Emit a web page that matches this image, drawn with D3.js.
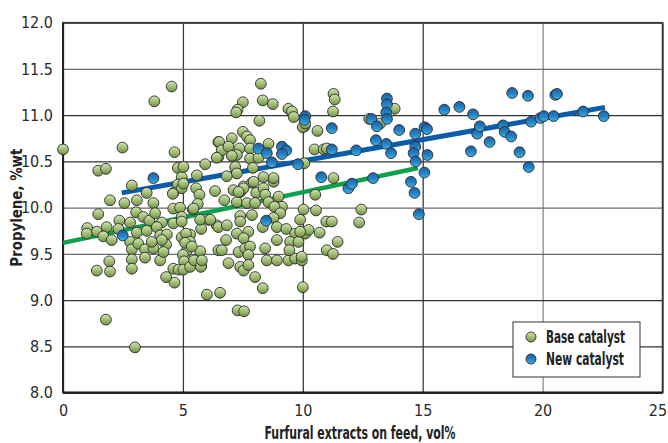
<!DOCTYPE html>
<html>
<head>
<meta charset="utf-8">
<script src="https://cdn.jsdelivr.net/npm/d3@7"></script>
<style>
  body { margin: 0; background: #fff; }
  svg text { font-family: "Liberation Sans Narrow", "DejaVu Sans Condensed", "Roboto", sans-serif; }
</style>
</head>
<body>
<svg id="canvas"></svg>
<script>
// ticks
const xTicks = [0, 5, 10, 15, 20, 25]
const yTicks = [8.0, 8.5, 9.0, 9.5, 10.0, 10.5, 11.0, 11.5, 12.0]

// base catalyst points [furfural extracts vol%, propylene %wt]
const baseData = [
  [0.0,10.63],[3.81,11.15],[4.53,11.31],[2.48,10.65],[1.47,10.40],[1.79,10.42],[4.65,10.60],[4.79,10.43],
  [4.95,10.33],[5.58,10.35],[5.93,10.47],[6.48,10.71],[6.48,10.55],[2.87,10.24],[3.49,10.16],[4.79,10.25],
  [4.60,10.16],[4.95,10.21],[5.55,10.21],[5.69,10.14],[6.34,10.18],
  [1.96,10.08],[2.56,10.05],[3.08,10.08],[3.77,10.05],[4.58,10.15],[5.02,10.26],
  [1.47,9.93],[2.35,9.86],[2.80,9.84],[3.05,9.95],[3.35,9.90],[3.60,9.86],[3.84,9.94],[4.12,9.84],
  [4.60,9.99],[4.88,10.00],[4.95,9.90],[4.60,9.83],
  [1.01,9.78],[1.41,9.74],[0.99,9.72],[1.82,9.79],[1.68,9.69],[2.03,9.65],[2.31,9.77],[3.08,9.73],
  [3.49,9.75],[3.91,9.79],[4.05,9.70],[4.33,9.71],[4.30,9.60],[4.12,9.65],
  [2.80,9.63],[2.87,9.55],[3.14,9.61],[3.42,9.55],[3.42,9.46],[3.77,9.56],[3.70,9.63],[4.05,9.43],
  [4.19,9.52],[4.60,9.34],[4.82,9.33],[4.65,9.19],[4.30,9.25],
  [1.93,9.42],[1.96,9.31],[1.41,9.32],[2.87,9.44],[2.87,9.34],[5.13,9.63],[5.13,9.52],[5.09,9.45],
  [1.79,8.79],[3.00,8.49],[6.00,9.06],[6.55,9.08],
  [5.72,9.41],[5.76,9.37],[5.62,10.04],[5.41,9.98],[4.95,9.68],[5.16,9.63],
  [5.00,9.49],[5.05,9.42],[5.48,9.41],[6.06,9.87],[6.41,9.81],[5.76,9.77],[5.30,9.71],[5.72,9.53],[6.48,9.54],
  [5.44,9.99],[6.73,10.08],[7.11,10.19],[7.39,10.17],[7.53,10.23],[7.88,10.27],[8.06,10.16],[8.36,10.21],
  [8.43,10.14],[8.78,10.28],[7.25,10.06],[7.67,10.05],[8.01,10.05],[8.57,10.06],[8.99,10.12],[9.13,10.01],
  [8.82,10.01],[9.06,9.94],
  [4.95,9.85],[5.72,9.87],[6.14,9.87],[6.48,9.79],[6.83,9.81],[7.39,9.91],[7.88,9.92],[7.39,9.85],
  [8.33,9.79],[8.78,9.89],[8.92,9.79],[9.31,9.77],[9.68,9.72],[9.89,9.87],[10.10,9.72],[10.24,9.76],
  [5.13,9.72],[5.30,9.63],[5.09,9.62],[5.37,9.58],[7.25,9.72],[7.73,9.74],[7.53,9.67],[6.80,9.65],
  [6.62,9.54],[7.32,9.52],[7.60,9.56],[7.80,9.58],[7.73,9.49],[8.43,9.56],[8.92,9.65],[9.47,9.63],[9.82,9.63],
  [5.02,9.33],[5.30,9.36],[5.47,9.43],[5.75,9.36],[5.79,9.43],
  [6.90,9.40],[7.39,9.36],[7.53,9.32],[7.73,9.38],[8.01,9.25],[8.50,9.43],[8.92,9.43],[9.40,9.43],
  [9.68,9.45],[9.96,9.43],[8.33,9.13],[10.00,9.14],[7.28,8.89],[7.55,8.88],
  [12.44,9.98],[12.35,9.84],[11.45,9.63],[11.00,9.54],[11.26,9.50],[10.98,9.85],[11.21,9.85],[10.70,9.73],
  [9.89,9.74],[10.03,9.98],[10.55,9.97],[9.44,9.54],[9.95,9.47],
  [8.25,11.34],[7.50,11.14],[7.28,11.06],[7.22,11.03],[8.33,11.16],[8.75,11.12],[8.19,10.94],[9.40,11.07],
  [9.55,11.04],[9.62,10.98],[10.08,10.88],[7.50,10.82],[6.51,10.71],[7.04,10.75],[7.67,10.77],[7.80,10.73],
  [8.57,10.69],[6.62,10.62],[6.90,10.66],[7.36,10.64],[7.80,10.64],[7.25,10.57],[7.04,10.56],[6.41,10.54],
  [7.80,10.53],[8.15,10.54],[7.18,10.44],[7.25,10.37],[7.92,10.43],[8.78,10.32],[8.36,10.33],[6.83,10.34],
  [5.02,10.44],[7.53,10.21],[7.32,10.17],[7.95,10.28],
  [11.28,11.23],[11.33,11.17],[11.26,11.04],[10.00,10.87],[10.10,10.91],[10.61,10.83],[12.77,10.96],
  [13.83,11.07],[13.23,10.91],[10.49,10.63],[10.87,10.63],[11.00,10.64],[10.06,10.48],[11.28,10.32],[10.52,10.14]
]

// new catalyst points
const newData = [
  [2.49,9.70],[3.77,10.32],[8.15,10.64],[8.50,10.59],[8.71,10.49],[9.13,10.66],[9.31,10.62],[9.13,10.58],
  [9.80,10.47],[8.47,9.86],[10.10,10.99],[10.07,10.95],[11.21,10.86],[11.21,10.63],[12.23,10.62],[10.77,10.33],
  [11.90,10.21],[12.05,10.26],[12.93,10.32],[12.86,10.96],[13.09,10.88],[13.51,11.18],[13.51,11.12],[13.48,11.03],
  [13.51,10.96],[13.05,10.73],[13.48,10.69],[13.68,10.59],[14.02,10.84],[14.69,10.80],[15.08,10.87],[15.18,10.85],
  [14.69,10.66],[14.62,10.59],[14.71,10.50],[15.20,10.57],[15.07,10.38],[14.51,10.28],[14.66,10.16],[14.84,9.93],
  [15.90,11.06],[16.53,11.09],[17.10,11.01],[17.27,10.80],[17.38,10.88],[17.01,10.61],[17.79,10.71],[18.73,11.24],
  [19.39,11.21],[18.35,10.89],[18.42,10.82],[18.69,10.77],[19.04,10.60],[19.42,10.44],[19.52,10.93],[19.91,10.97],
  [20.05,10.99],[20.46,10.99],[20.53,11.22],[20.60,11.23],[21.69,11.04],[22.55,10.99]
]

// fitted trend lines (end points)
const baseTrend = [[0, 9.62], [14.8, 10.43]]
const newTrend = [[2.45, 10.16], [22.6, 11.085]]

const seriesNames = ['Base catalyst', 'New catalyst']

let width = 668
let height = 443
let padLeft = 63, padRight = 662.5, padTop = 22.7, padBottom = 392.7

const svg = d3.select('#canvas')
  .attr('width', width)
  .attr('height', height)

const xScale = d3.scaleLinear().domain([0, 25]).range([padLeft, padRight])
const yScale = d3.scaleLinear().domain([8, 12]).range([padBottom, padTop])

// gradients for the balls
const defs = svg.append('defs')
const grad = (id, c1, c2, c3) => {
  const g = defs.append('linearGradient').attr('id', id)
    .attr('x1', 0).attr('y1', 0).attr('x2', 0).attr('y2', 1)
  g.append('stop').attr('offset', '0%').attr('stop-color', c1)
  g.append('stop').attr('offset', '55%').attr('stop-color', c2)
  g.append('stop').attr('offset', '100%').attr('stop-color', c3)
}
grad('gGreen', '#d3e4b3', '#9dbb70', '#6f8f45')
grad('gBlue', '#1a5ea6', '#2584c6', '#3db4e2')

// grid
svg.append('g')
  .attr('transform', 'translate(0,' + padBottom + ')')
  .call(d3.axisBottom(xScale).tickValues(xTicks).tickSize(-(padBottom - padTop)).tickFormat(''))
  .call(g => g.select('.domain').remove())
  .selectAll('line').attr('stroke', (d) => d == 20 ? '#8a8a8a' : '#3c3c3c').attr('stroke-width', 1.3)

svg.append('g')
  .attr('transform', 'translate(' + padLeft + ',0)')
  .call(d3.axisLeft(yScale).tickValues(yTicks).tickSize(-(padRight - padLeft)).tickFormat(''))
  .call(g => g.select('.domain').remove())
  .selectAll('line').attr('stroke', (d) => (d == 11.5 || d == 9.5 || d == 10) ? '#6a6a6a' : '#333').attr('stroke-width', 1.3)

// frame
svg.append('rect')
  .attr('x', padLeft).attr('y', padTop)
  .attr('width', padRight - padLeft).attr('height', padBottom - padTop)
  .attr('fill', 'none').attr('stroke', '#3a3a3a').attr('stroke-width', 1.6)
svg.append('line')
  .attr('x1', padLeft).attr('x2', padRight).attr('y1', padBottom).attr('y2', padBottom)
  .attr('stroke', '#222').attr('stroke-width', 2.5)
svg.append('line')
  .attr('x1', padLeft).attr('x2', padLeft).attr('y1', padTop).attr('y2', padBottom)
  .attr('stroke', '#222').attr('stroke-width', 2)

// tick labels
let xAxis = d3.axisBottom(xScale).tickValues(xTicks).tickSize(0).tickPadding(12).tickFormat(d3.format('d'))
let yAxis = d3.axisLeft(yScale).tickValues(yTicks).tickSize(0).tickPadding(10).tickFormat(d3.format('.1f'))

svg.append('g').attr('id', 'x-axis')
  .attr('transform', 'translate(0,' + padBottom + ')')
  .call(xAxis)
  .call(g => g.select('.domain').remove())
  .call(g => g.attr('font-family', null).attr('font-size', null))
  .selectAll('text').attr('font-size', 16).attr('fill', '#2a2a2a')
  .attr('dx', d => d == 25 ? -5 : 0)

svg.append('g').attr('id', 'y-axis')
  .attr('transform', 'translate(' + padLeft + ',0)')
  .call(yAxis)
  .call(g => g.select('.domain').remove())
  .call(g => g.attr('font-family', null).attr('font-size', null))
  .selectAll('text').attr('font-size', 16).attr('fill', '#2a2a2a')

// axis titles
svg.append('text')
  .attr('x', 360).attr('y', 439)
  .attr('text-anchor', 'middle')
  .attr('font-size', 17).attr('font-weight', 'bold').attr('fill', '#222')
  .attr('textLength', 191).attr('lengthAdjust', 'spacingAndGlyphs')
  .text('Furfural extracts on feed, vol%')

svg.append('text')
  .attr('transform', 'translate(22,' + ((padTop + padBottom) / 2) + ') rotate(-90)')
  .attr('text-anchor', 'middle')
  .attr('font-size', 16).attr('font-weight', 'bold').attr('fill', '#222')
  .attr('textLength', 118).attr('lengthAdjust', 'spacingAndGlyphs')
  .text('Propylene, %wt')

// trend lines
const line = d3.line().x(d => xScale(d[0])).y(d => yScale(d[1]))
svg.append('path').datum(baseTrend).attr('d', line)
  .attr('stroke', '#0ea04b').attr('stroke-width', 4.5).attr('fill', 'none')
svg.append('path').datum(newTrend).attr('d', line)
  .attr('stroke', '#0b5cab').attr('stroke-width', 5).attr('fill', 'none')

// points
svg.append('g').selectAll('circle')
  .data(baseData)
  .enter()
  .append('circle')
  .attr('cx', d => xScale(d[0]))
  .attr('cy', d => yScale(d[1]))
  .attr('r', 5.4)
  .attr('fill', 'url(#gGreen)')
  .attr('stroke', '#2b2b2b').attr('stroke-width', 0.9)

svg.append('g').selectAll('circle')
  .data(newData)
  .enter()
  .append('circle')
  .attr('cx', d => xScale(d[0]))
  .attr('cy', d => yScale(d[1]))
  .attr('r', 5.4)
  .attr('fill', 'url(#gBlue)')
  .attr('stroke', '#2b2b2b').attr('stroke-width', 0.9)

// legend
const legend = svg.append('g').attr('transform', 'translate(513,322)')
legend.append('rect')
  .attr('width', 127).attr('height', 55)
  .attr('fill', '#fff').attr('stroke', '#333').attr('stroke-width', 1)
legend.selectAll('circle')
  .data(seriesNames)
  .enter()
  .append('circle')
  .attr('cx', 18)
  .attr('cy', (d, i) => 15 + i * 22)
  .attr('r', 5)
  .attr('fill', (d, i) => i == 0 ? 'url(#gGreen)' : 'url(#gBlue)')
  .attr('stroke', '#2b2b2b').attr('stroke-width', 0.9)
legend.selectAll('text')
  .data(seriesNames)
  .enter()
  .append('text')
  .attr('x', 33)
  .attr('y', (d, i) => 21 + i * 22)
  .attr('font-size', 17).attr('font-weight', 'bold').attr('fill', '#222')
  .attr('textLength', (d, i) => i == 0 ? 79 : 78).attr('lengthAdjust', 'spacingAndGlyphs')
  .text(d => d)
</script>
</body>
</html>
